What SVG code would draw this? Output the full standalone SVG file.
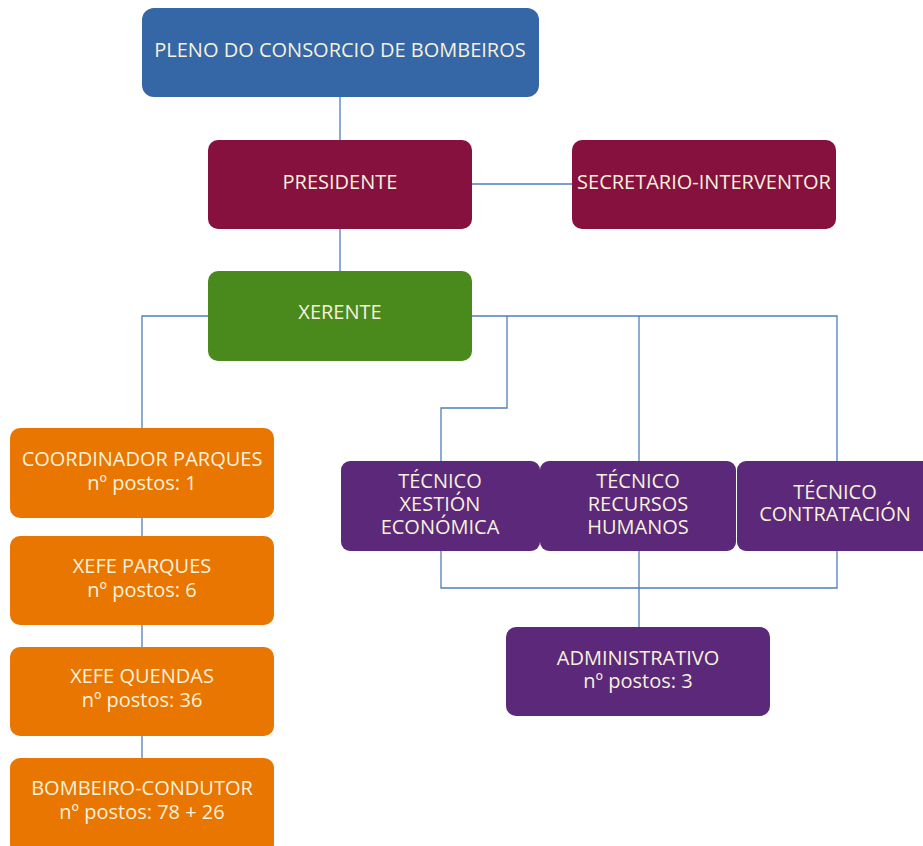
<svg xmlns="http://www.w3.org/2000/svg" width="923" height="846" viewBox="0 0 923 846">
  <style>
    .box { stroke: none; }
    .blue { fill: #3566a6; }
    .wine { fill: #86113f; }
    .green { fill: #4a891c; }
    .purple { fill: #5c2879; }
    .orange { fill: #e97600; }
    text { font-family: "Open Sans", "Liberation Sans", sans-serif; font-size: 20px; fill: #f6f2dc; text-anchor: middle; }
    .conn line, .conn polyline { stroke: #4f7ebb; stroke-width: 1.3; fill: none; }
  </style>

  <g id="connectors" class="conn">
    <line x1="340" y1="96" x2="340" y2="141"/>
    <line x1="472" y1="184" x2="573" y2="184"/>
    <line x1="340" y1="228" x2="340" y2="272"/>
    <polyline points="209,316 142,316 142,429"/>
    <polyline points="471,316 837,316 837,462"/>
    <polyline points="507,316 507,408 441,408 441,462"/>
    <line x1="639" y1="316" x2="639" y2="462"/>
    <line x1="142" y1="517" x2="142" y2="537"/>
    <line x1="142" y1="624" x2="142" y2="648"/>
    <line x1="142" y1="735" x2="142" y2="759"/>
    <polyline points="441,550 441,588 837,588 837,550"/>
    <line x1="639" y1="550" x2="639" y2="628"/>
  </g>

  <g id="pleno">
    <rect class="box blue" x="142" y="8" width="397" height="89" rx="12"/>
    <text x="340" y="57">PLENO DO CONSORCIO DE BOMBEIROS</text>
  </g>

  <g id="presidente">
    <rect class="box wine" x="208" y="140" width="264" height="89" rx="10"/>
    <text x="340" y="189">PRESIDENTE</text>
  </g>

  <g id="secretario">
    <rect class="box wine" x="572" y="140" width="264" height="89" rx="10"/>
    <text x="704" y="189">SECRETARIO-INTERVENTOR</text>
  </g>

  <g id="xerente">
    <rect class="box green" x="208" y="271" width="264" height="90" rx="10"/>
    <text x="340" y="319">XERENTE</text>
  </g>

  <g id="coordinador">
    <rect class="box orange" x="10" y="428" width="264" height="90" rx="10"/>
    <text x="142" y="466">COORDINADOR PARQUES</text>
    <text x="142" y="490">nº postos: 1</text>
  </g>

  <g id="xefe-parques">
    <rect class="box orange" x="10" y="536" width="264" height="89" rx="10"/>
    <text x="142" y="573">XEFE PARQUES</text>
    <text x="142" y="597">nº postos: 6</text>
  </g>

  <g id="xefe-quendas">
    <rect class="box orange" x="10" y="647" width="264" height="89" rx="10"/>
    <text x="142" y="683">XEFE QUENDAS</text>
    <text x="142" y="707">nº postos: 36</text>
  </g>

  <g id="bombeiro">
    <rect class="box orange" x="10" y="758" width="264" height="96" rx="10"/>
    <text x="142" y="795">BOMBEIRO-CONDUTOR</text>
    <text x="142" y="819">nº postos: 78 + 26</text>
  </g>

  <g id="tecnico-xestion">
    <rect class="box purple" x="341" y="461" width="199" height="90" rx="9"/>
    <text x="440" y="488">TÉCNICO</text>
    <text x="440" y="511">XESTIÓN</text>
    <text x="440" y="534">ECONÓMICA</text>
  </g>

  <g id="tecnico-recursos">
    <rect class="box purple" x="540" y="461" width="196" height="90" rx="9"/>
    <text x="638" y="488">TÉCNICO</text>
    <text x="638" y="511">RECURSOS</text>
    <text x="638" y="534">HUMANOS</text>
  </g>

  <g id="tecnico-contratacion">
    <rect class="box purple" x="737" y="461" width="196" height="90" rx="9"/>
    <text x="835" y="499">TÉCNICO</text>
    <text x="835" y="521">CONTRATACIÓN</text>
  </g>

  <g id="administrativo">
    <rect class="box purple" x="506" y="627" width="264" height="89" rx="10"/>
    <text x="638" y="665">ADMINISTRATIVO</text>
    <text x="638" y="688">nº postos: 3</text>
  </g>
</svg>
